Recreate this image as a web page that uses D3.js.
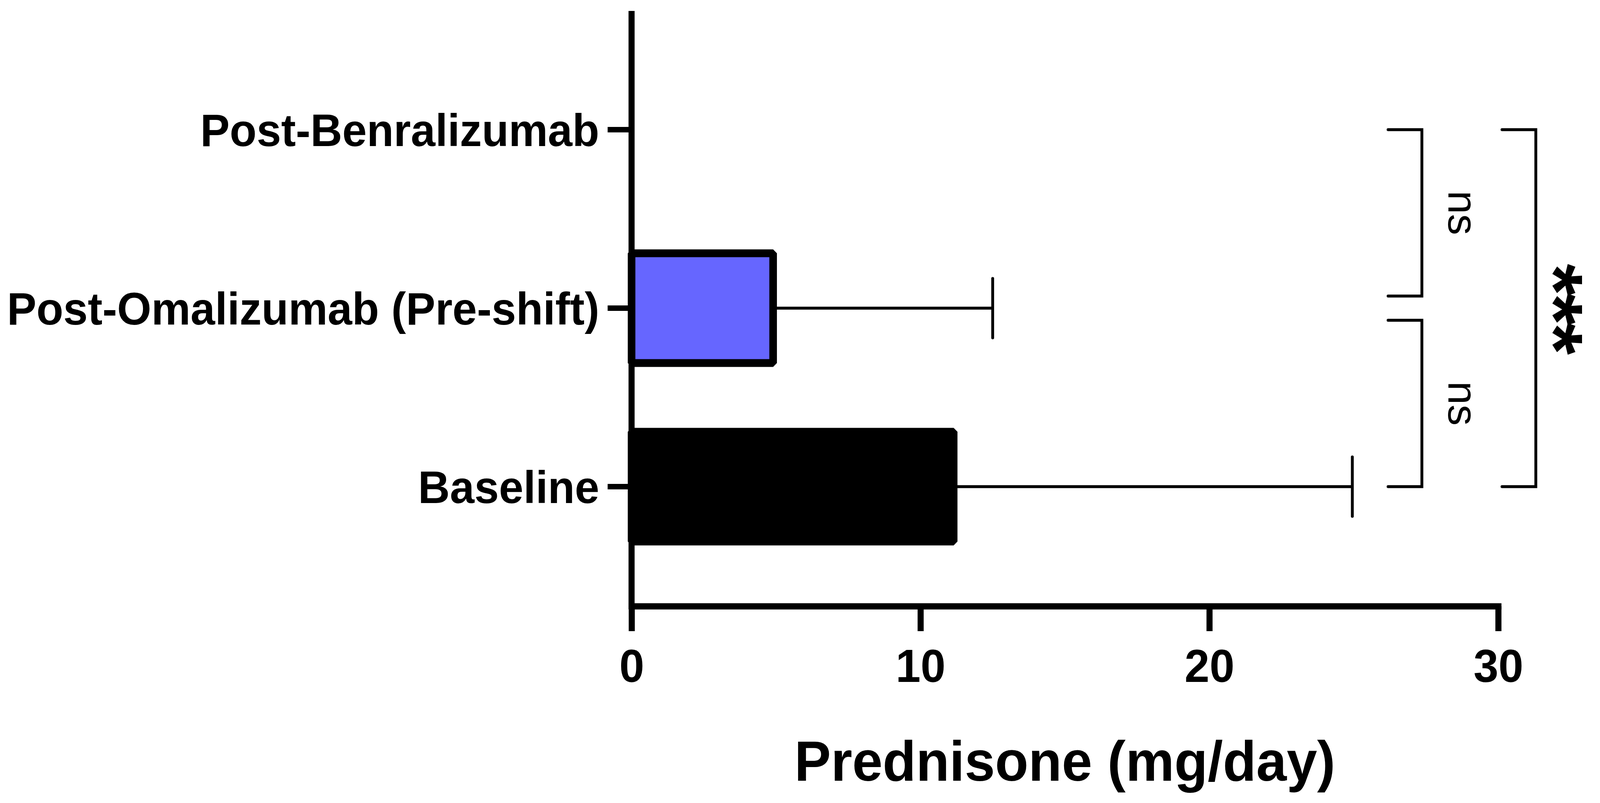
<!DOCTYPE html>
<html>
<head>
<meta charset="utf-8">
<script src="https://cdn.jsdelivr.net/npm/d3@7"></script>
<style>
  html, body { margin: 0; padding: 0; background: #fff; overflow: hidden; }
  svg { display: block; }
  text { font-family: "Liberation Sans", Arial, sans-serif; }
</style>
</head>
<body>
<div id="chart"></div>
<script>
// data
var categories = ["Post-Benralizumab", "Post-Omalizumab (Pre-shift)", "Baseline"];
var means = [0, 4.9, 11.15];
var sds = [0, 7.6, 13.8];
var fills = ["#ffffff", "#6666ff", "#000000"];
var xTicks = [0, 10, 20, 30];
var comparisons = [
  { from: "Post-Benralizumab", to: "Post-Omalizumab (Pre-shift)", label: "ns", level: 0 },
  { from: "Post-Omalizumab (Pre-shift)", to: "Baseline", label: "ns", level: 0 },
  { from: "Post-Benralizumab", to: "Baseline", label: "***", level: 1 }
];
var xTitle = "Prednisone (mg/day)";

var width = 4213, height = 2056,
    axisY = 1552,
    axisTop = 36,
    font = '"Liberation Sans", Arial, sans-serif';

// fit the drawing to whatever viewport the browser really gives us
var vw = Math.min(window.innerWidth || width, document.documentElement.clientWidth || width),
    vh = Math.min(window.innerHeight || height, document.documentElement.clientHeight || height);

var svg = d3.select("#chart").append("svg")
    .attr("width", vw)
    .attr("height", vh)
    .attr("viewBox", "0 0 " + width + " " + height)
    .attr("preserveAspectRatio", "none");

var x = d3.scaleLinear()
    .domain([0, 30])
    .range([1663, 3945]);

var y = d3.scaleBand()
    .domain(categories)
    .range([103.5, 1474.5])
    .paddingInner(0.385)
    .paddingOuter(0.1925);

var rows = categories.map(function(c, i) {
  return { cat: c, mean: means[i], sd: sds[i], fill: fills[i] };
});

function yc(c) { return y(c) + y.bandwidth() / 2; }

// error bars (one-sided, to the right)
var withBars = rows.filter(function(d) { return d.mean > 0; });

svg.selectAll(".err")
    .data(withBars)
    .enter().append("line")
      .attr("x1", function(d) { return x(d.mean); })
      .attr("x2", function(d) { return x(d.mean + d.sd); })
      .attr("y1", function(d) { return yc(d.cat); })
      .attr("y2", function(d) { return yc(d.cat); })
      .style("stroke", "#000")
      .style("stroke-width", 7.5);

svg.selectAll(".cap")
    .data(withBars)
    .enter().append("line")
      .attr("x1", function(d) { return x(d.mean + d.sd); })
      .attr("x2", function(d) { return x(d.mean + d.sd); })
      .attr("y1", function(d) { return yc(d.cat) - 76; })
      .attr("y2", function(d) { return yc(d.cat) + 76; })
      .style("stroke", "#000")
      .style("stroke-width", 7.5)
      .style("stroke-linecap", "round");

svg.selectAll(".bar")
    .data(withBars)
    .enter().append("rect")
      .attr("x", x(0))
      .attr("y", function(d) { return y(d.cat); })
      .attr("width", function(d) { return x(d.mean) - x(0); })
      .attr("height", y.bandwidth())
      .style("fill", function(d) { return d.fill; })
      .style("stroke", "#000")
      .style("stroke-width", 20)
      .style("stroke-linejoin", "bevel");

// x axis
var gx = svg.append("g")
    .attr("transform", "translate(0," + axisY + ")")
    .call(d3.axisBottom(x).tickValues(xTicks).tickSizeInner(64).tickSizeOuter(0).tickPadding(46));

gx.select(".domain")
    .style("stroke", "#000")
    .style("stroke-width", 16)
    .style("stroke-linecap", "square");
gx.selectAll(".tick line")
    .style("stroke", "#000")
    .style("stroke-width", 16);
gx.selectAll(".tick text")
    .attr("font-family", font)
    .attr("font-size", 118)
    .attr("font-weight", "bold")
    .attr("fill", "#000");

// y axis
var gy = svg.append("g")
    .attr("transform", "translate(" + x(0) + ",0)")
    .call(d3.axisLeft(y).tickSizeInner(63).tickSizeOuter(0).tickPadding(22));

gy.select(".domain").remove();
gy.selectAll(".tick line")
    .style("stroke", "#000")
    .style("stroke-width", 14);
gy.selectAll(".tick text")
    .attr("dy", "0.36em")
    .attr("font-family", font)
    .attr("font-size", 116)
    .attr("font-weight", "bold")
    .attr("fill", "#000");

svg.append("line")
    .attr("x1", x(0))
    .attr("x2", x(0))
    .attr("y1", axisTop)
    .attr("y2", axisY)
    .style("stroke", "#000")
    .style("stroke-width", 16)
    .style("stroke-linecap", "square");

svg.append("text")
    .attr("x", (x.range()[0] + x.range()[1]) / 2)
    .attr("y", 1999)
    .attr("text-anchor", "middle")
    .attr("font-size", 144)
    .attr("font-weight", "bold")
    .text(xTitle);

// significance brackets
var bracketX = [[3655, 3744], [3955, 4044]],
    labelOffset = [70, -23],
    gap = 31;

comparisons.forEach(function(c) {
  var top = yc(c.from), bot = yc(c.to);
  // shorten where two brackets on the same level meet
  comparisons.forEach(function(o) {
    if (o === c || o.level !== c.level) return;
    if (o.from === c.to) bot -= gap;
    if (o.to === c.from) top += gap;
  });
  var xa = bracketX[c.level][0], xb = bracketX[c.level][1];

  svg.append("path")
      .attr("d", "M" + xa + "," + top + "H" + xb + "V" + bot + "H" + xa)
      .style("fill", "none")
      .style("stroke", "#000")
      .style("stroke-width", 7.5)
      .style("stroke-linecap", "round");

  var ns = c.label === "ns";
  var tx = xb + labelOffset[c.level], ty = (top + bot) / 2;
  svg.append("text")
      .attr("transform", "translate(" + tx + "," + ty + ") rotate(90)")
      .attr("text-anchor", "middle")
      .attr("font-size", ns ? 108 : 210)
      .attr("font-weight", ns ? "normal" : "bold")
      .attr("letter-spacing", ns ? 0 : -6)
      .text(c.label);
});
</script>
</body>
</html>
